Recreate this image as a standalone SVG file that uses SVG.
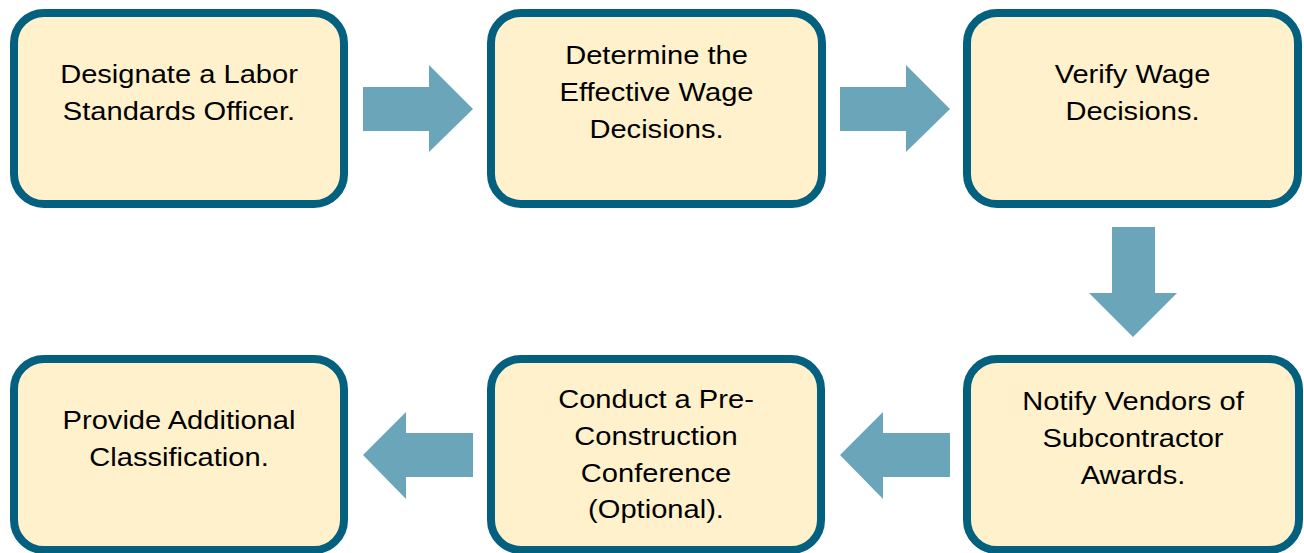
<svg xmlns="http://www.w3.org/2000/svg" width="1304" height="553" viewBox="0 0 1304 553">
  <style>
    .box { fill: #FFF1CC; stroke: #03607F; stroke-width: 8; }
    .arrow { fill: #6AA5B9; }
    .label { font-family: "Liberation Sans", Arial, sans-serif; font-size: 25.6px; fill: #000; text-anchor: middle; }
  </style>
  <rect width="1304" height="553" fill="#FFFFFF"/>

  <!-- block arrows between steps -->
  <g id="connectors">
    <polygon class="arrow" points="363,87 429,87 429,65 473,109 429,152 429,131 363,131"/>
    <polygon class="arrow" points="840,87 906,87 906,65 950,109 906,152 906,131 840,131"/>
    <polygon class="arrow" points="1112,227 1155,227 1155,293 1177,293 1133,337 1089,293 1112,293"/>
    <polygon class="arrow" points="950,433 883,433 883,412 840,455 883,499 883,477 950,477"/>
    <polygon class="arrow" points="473,433 406,433 406,412 363,455 406,499 406,477 473,477"/>
  </g>

  <g id="step1">
    <rect class="box" x="14" y="13" width="330" height="191" rx="30" ry="30"/>
    <g transform="translate(179,0) scale(1.137,1)">
      <text class="label" x="0" y="83">Designate a Labor</text>
      <text class="label" x="0" y="120">Standards Officer.</text>
    </g>
  </g>

  <g id="step2">
    <rect class="box" x="491" y="13" width="331" height="191" rx="30" ry="30"/>
    <g transform="translate(656.5,0) scale(1.137,1)">
      <text class="label" x="0" y="64">Determine the</text>
      <text class="label" x="0" y="101.5">Effective Wage</text>
      <text class="label" x="0" y="138.5">Decisions.</text>
    </g>
  </g>

  <g id="step3">
    <rect class="box" x="967" y="13" width="331" height="191" rx="30" ry="30"/>
    <g transform="translate(1132.5,0) scale(1.137,1)">
      <text class="label" x="0" y="83">Verify Wage</text>
      <text class="label" x="0" y="120">Decisions.</text>
    </g>
  </g>

  <g id="step4">
    <rect class="box" x="967" y="359" width="332" height="191" rx="30" ry="30"/>
    <g transform="translate(1133,0) scale(1.137,1)">
      <text class="label" x="0" y="410">Notify Vendors of</text>
      <text class="label" x="0" y="447">Subcontractor</text>
      <text class="label" x="0" y="484">Awards.</text>
    </g>
  </g>

  <g id="step5">
    <rect class="box" x="491" y="359" width="330" height="191" rx="30" ry="30"/>
    <g transform="translate(656,0) scale(1.137,1)">
      <text class="label" x="0" y="408.5">Conduct a Pre-</text>
      <text class="label" x="0" y="445">Construction</text>
      <text class="label" x="0" y="482">Conference</text>
      <text class="label" x="0" y="518.5">(Optional).</text>
    </g>
  </g>

  <g id="step6">
    <rect class="box" x="14" y="359" width="330" height="191" rx="30" ry="30"/>
    <g transform="translate(179,0) scale(1.137,1)">
      <text class="label" x="0" y="429">Provide Additional</text>
      <text class="label" x="0" y="466">Classification.</text>
    </g>
  </g>
</svg>
